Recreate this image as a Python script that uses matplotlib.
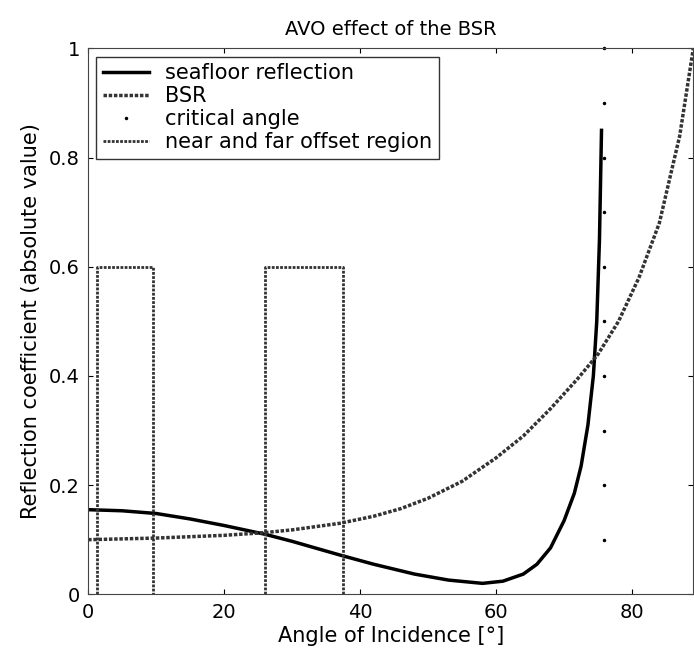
import matplotlib
matplotlib.use("Agg")
import matplotlib.pyplot as plt

sea_x = [0, 5, 10, 15, 20, 26, 30, 37, 42, 48, 53, 58, 61, 64, 66, 68, 70, 71.5, 72.5, 73.5, 74.3, 74.8, 75.2, 75.5]
sea_y = [0.155, 0.153, 0.148, 0.138, 0.126, 0.11, 0.097, 0.072, 0.055, 0.037, 0.026, 0.02, 0.024, 0.037, 0.055, 0.085, 0.135, 0.185, 0.235, 0.31, 0.40, 0.50, 0.65, 0.85]
bsr_x = [0, 10, 20, 26, 30, 37, 42, 46, 50, 55, 60, 64, 68, 72, 75, 78, 81, 84, 87, 89]
bsr_y = [0.10, 0.103, 0.108, 0.113, 0.118, 0.13, 0.143, 0.157, 0.176, 0.207, 0.25, 0.29, 0.34, 0.395, 0.44, 0.5, 0.58, 0.68, 0.84, 1.0]
crit_angle = 75.8
crit_y = [0.1, 0.2, 0.3, 0.4, 0.5, 0.6, 0.7, 0.8, 0.9, 1.0]
box_x = [1.3, 1.3, 9.6, 9.6, float('nan'), 26, 26, 37.5, 37.5]
box_y = [0, 0.6, 0.6, 0, float('nan'), 0, 0.6, 0.6, 0]

fig = plt.figure(figsize=(6.94, 6.64), dpi=100)
ax = fig.add_axes([0.127, 0.105, 0.872, 0.822])
ax.plot(sea_x, sea_y, color='black', lw=2.5, label='seafloor reflection')
ax.plot(bsr_x, bsr_y, color='#333333', lw=2.5, ls=(0, (1, 0.5)), label='BSR')
ax.plot([crit_angle]*len(crit_y), crit_y, 'k.', ms=3, label='critical angle', clip_on=False)
ax.plot(box_x, box_y, color='#333333', lw=2, ls=(0, (1, 0.5)), label='near and far offset region')
ax.set_xlim(0, 89)
ax.set_ylim(0, 1)
ax.set_xticks([0, 20, 40, 60, 80])
ax.set_yticks([0, 0.2, 0.4, 0.6, 0.8, 1])
ax.set_yticklabels(['0', '0.2', '0.4', '0.6', '0.8', '1'])
ax.tick_params(direction='in', labelsize=14, top=True, right=True, pad=6)
for s in ax.spines.values():
    s.set_color('#444444')
ax.set_xlabel('Angle of Incidence [°]', fontsize=15, labelpad=3)
ax.set_ylabel('Reflection coefficient (absolute value)', fontsize=15, labelpad=6)
ax.set_title('AVO effect of the BSR', fontsize=14, pad=10)
leg = ax.legend(loc='upper left', fontsize=15, frameon=True, fancybox=False, edgecolor='black', borderpad=0.3, labelspacing=0.15, handlelength=2.2, borderaxespad=0.4)
leg.get_frame().set_linewidth(1)
fig.savefig('out.png', dpi=100)
